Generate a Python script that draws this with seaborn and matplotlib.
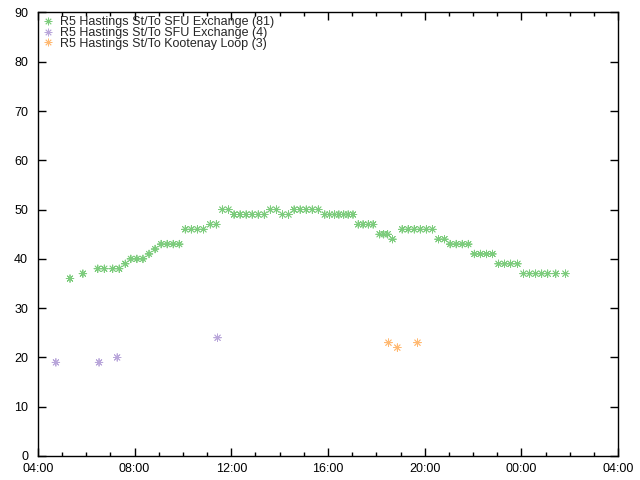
import matplotlib
matplotlib.use("Agg")
import matplotlib.pyplot as plt
import matplotlib.dates as mdates
import pandas as pd
import seaborn as sns

# departures (times after midnight belong to the next day)
sfu81_times = ["05:20", "05:52", "06:29", "06:45", "07:06", "07:22", "07:37", "07:51",
               "08:06", "08:21", "08:36", "08:51", "09:06", "09:21", "09:36", "09:51",
               "10:06", "10:21", "10:36", "10:51", "11:08", "11:23", "11:38", "11:53",
               "12:07", "12:22", "12:37", "12:52", "13:07", "13:22", "13:37", "13:52",
               "14:07", "14:22", "14:36", "14:51", "15:06", "15:21", "15:36",
               "15:52", "16:04", "16:16", "16:27", "16:39", "16:50", "17:02",
               "17:15", "17:27", "17:40", "17:52", "18:08", "18:18", "18:28", "18:40",
               "19:04", "19:19", "19:34", "19:49", "20:04", "20:19", "20:34", "20:49",
               "21:03", "21:18", "21:33", "21:48", "22:03", "22:18", "22:33", "22:48",
               "23:03", "23:18", "23:33", "23:50", "00:05", "00:20", "00:35", "00:50",
               "01:05", "01:25", "01:49"]
sfu81_mins = [36, 37, 38, 38, 38, 38, 39, 40,
              40, 40, 41, 42, 43, 43, 43, 43,
              46, 46, 46, 46, 47, 47, 50, 50,
              49, 49, 49, 49, 49, 49, 50, 50,
              49, 49, 50, 50, 50, 50, 50,
              49, 49, 49, 49, 49, 49, 49,
              47, 47, 47, 47, 45, 45, 45, 44,
              46, 46, 46, 46, 46, 46, 44, 44,
              43, 43, 43, 43, 41, 41, 41, 41,
              39, 39, 39, 39, 37, 37, 37, 37,
              37, 37, 37]

sfu4_times = ["04:45", "06:32", "07:17", "11:26"]
sfu4_mins = [19, 19, 20, 24]

koot_times = ["18:30", "18:52", "19:42"]
koot_mins = [23, 22, 23]

labels = ["R5 Hastings St/To SFU Exchange (81)",
          "R5 Hastings St/To SFU Exchange (4)",
          "R5 Hastings St/To Kootenay Loop (3)"]
colors = ["#7dcc7d", "#b9a6da", "#ffb972"]


def to_dt(t):
    d = pd.Timestamp("2024-01-01 " + t)
    if d.hour < 4:
        d += pd.Timedelta(days=1)
    return d


rows = []
for lab, ts, vs in zip(labels, [sfu81_times, sfu4_times, koot_times],
                       [sfu81_mins, sfu4_mins, koot_mins]):
    for t, v in zip(ts, vs):
        rows.append({"time": to_dt(t), "minutes": v, "route": lab})
df = pd.DataFrame(rows)

sns.set_style("ticks")
plt.rcParams['font.family'] = ['Liberation Sans', 'DejaVu Sans']

fig = plt.figure(figsize=(6.4, 4.8), dpi=100)
ax = fig.add_axes([0.059, 0.05, 0.907, 0.924])

sns.scatterplot(data=df, x="time", y="minutes", hue="route", hue_order=labels,
                palette=colors, marker=(8, 2, 0), s=30, linewidth=0.6,
                ax=ax, legend=True)

ax.set_xlim(pd.Timestamp("2024-01-01 04:00"), pd.Timestamp("2024-01-02 04:00"))
ax.set_ylim(0, 90)
ax.set_yticks(range(0, 91, 10))
ax.xaxis.set_major_locator(mdates.HourLocator(byhour=[0, 4, 8, 12, 16, 20]))
ax.xaxis.set_minor_locator(mdates.HourLocator())
ax.xaxis.set_major_formatter(mdates.DateFormatter("%H:%M"))
ax.set_xlabel("")
ax.set_ylabel("")

for s in ax.spines.values():
    s.set_visible(True)
    s.set_color("black")
    s.set_linewidth(1)
ax.tick_params(which="both", direction="in", top=True, right=True, labelsize=9,
               color="black", labelcolor="black")
ax.tick_params(which="major", length=6, width=1)
ax.tick_params(which="minor", length=3, width=1)
ax.tick_params(axis="x", pad=5)
ax.tick_params(axis="y", pad=7)

leg = ax.legend(loc="upper left", frameon=False, fontsize=9, handletextpad=0.5,
                borderaxespad=0.1, labelspacing=-0.1, handlelength=1.0,
                borderpad=0.2)

fig.savefig("out.png", dpi=100)
